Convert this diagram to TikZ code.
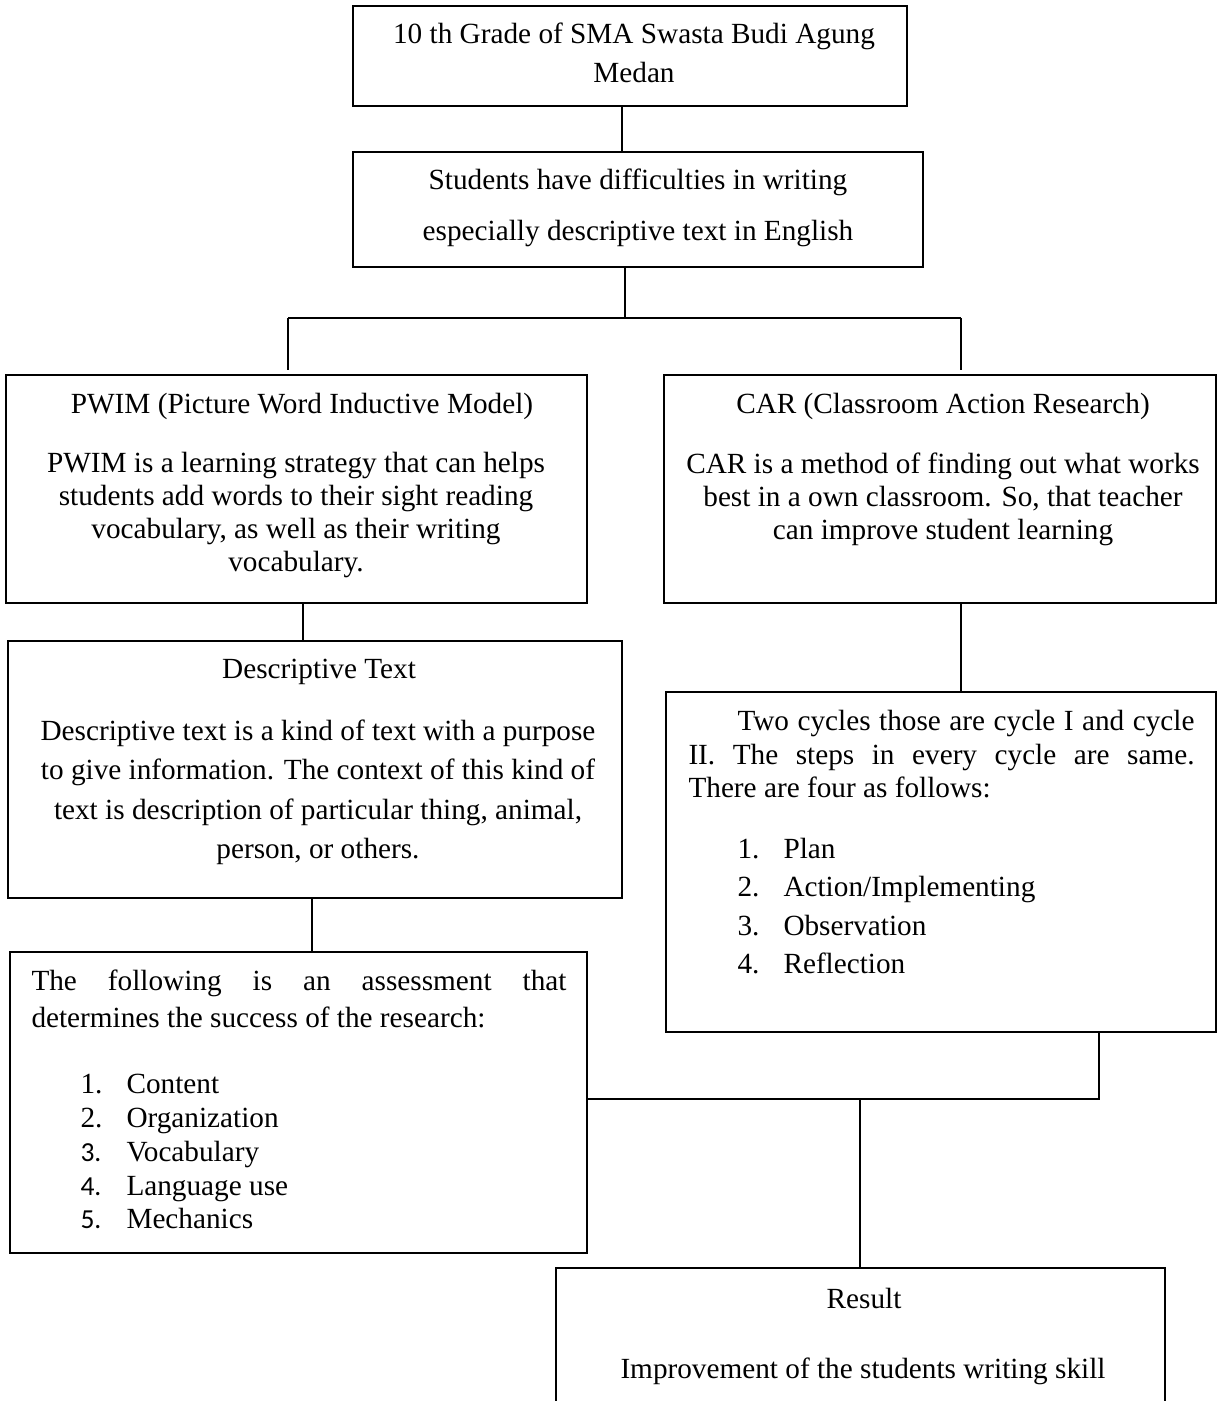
\documentclass[tikz,border=0pt]{standalone}
\usepackage{fontspec}
\setmainfont{Liberation Serif}
\newfontfamily\calib{Carlito}
\usetikzlibrary{fit}
\begin{document}
\begin{tikzpicture}[x=0.4pt,y=-0.4pt,
  box/.style={draw, line width=0.65pt, inner sep=0pt, rectangle},
  txt/.style={inner sep=0pt, font=\fontsize{11.7pt}{14pt}\selectfont},
  num/.style={inner sep=0pt, font=\calib\fontsize{11pt}{13pt}\selectfont},
  conn/.style={draw, line width=0.5pt}]
\clip (0,0) rectangle (1218,1401);
\fill[white] (0,0) rectangle (1218,1401);
% boxes
\node[box, fit={(353,6)(907,106)}] (grade) {};
\node[box, fit={(353,152)(923,267)}] (students) {};
\node[box, fit={(6,375)(587,603)}] (pwim) {};
\node[box, fit={(664,375)(1216,603)}] (car) {};
\node[box, fit={(8,641)(622,898)}] (desc) {};
\node[box, fit={(666,692)(1216,1032)}] (cycles) {};
\node[box, fit={(10,952)(587,1253)}] (assess) {};
\node[box, fit={(556,1268)(1165,1440)}] (result) {};
% connector guides
\coordinate (xa) at (622,0);
\coordinate (xb) at (625,0);
\coordinate (xl) at (288,0);
\coordinate (xr) at (961,0);
\coordinate (xc) at (303,0);
\coordinate (xd) at (312,0);
\coordinate (xe) at (1099,0);
\coordinate (xf) at (860,0);
\coordinate (hy) at (0,318);
\coordinate (hz) at (0,1099);
% connectors
\draw[conn] (grade.south -| xa) -- (students.north -| xa);
\draw[conn] (students.south -| xb) -- (xb |- hy);
\draw[conn] (xl |- hy) -- (xr |- hy);
\draw[conn, shorten >=1.5pt] (xl |- hy) -- (pwim.north -| xl);
\draw[conn, shorten >=1.5pt] (xr |- hy) -- (car.north -| xr);
\draw[conn] (pwim.south -| xc) -- (desc.north -| xc);
\draw[conn] (car.south -| xr) -- (cycles.north -| xr);
\draw[conn] (desc.south -| xd) -- (assess.north -| xd);
\draw[conn] (cycles.south -| xe) -- (xe |- hz) -- (assess.east |- hz);
\draw[conn] (xf |- hz) -- (result.north -| xf);
% texts: box 1
\node[txt, anchor=base] (g1) at (634,43) {10 th Grade of SMA Swasta Budi Agung};
\node[txt, anchor=base] (g2) at (634,82) {Medan};
% box 2
\node[txt, anchor=base] (s1) at (638,189) {Students have difficulties in writing};
\node[txt, anchor=base] (s2) at (638,240) {especially descriptive text in English};
% PWIM
\node[txt, anchor=base] (p0) at (302,413) {PWIM (Picture Word Inductive Model)};
\node[txt, anchor=base] (p1) at (296,472) {PWIM is a learning strategy that can helps};
\node[txt, anchor=base] (p2) at (296,505) {students add words to their sight reading};
\node[txt, anchor=base] (p3) at (296,538) {vocabulary, as well as their writing};
\node[txt, anchor=base] (p4) at (296,571) {vocabulary.};
% CAR
\node[txt, anchor=base] (r0) at (943,413) {CAR (Classroom Action Research)};
\node[txt, anchor=base] (r1) at (943,473) {CAR is a method of finding out what works};
\node[txt, anchor=base] (r2) at (943,506) {best in a own classroom. So, that teacher};
\node[txt, anchor=base] (r3) at (943,539) {can improve student learning};
% Descriptive
\node[txt, anchor=base] (d0) at (319,678) {Descriptive Text};
\node[txt, anchor=base] (d1) at (318,740) {Descriptive text is a kind of text with a purpose};
\node[txt, anchor=base] (d2) at (318,779) {to give information. The context of this kind of};
\node[txt, anchor=base] (d3) at (318,819) {text is description of particular thing, animal,};
\node[txt, anchor=base] (d4) at (318,858) {person, or others.};
% Two cycles
\node[txt, anchor=base west] (c1) at (737,730) {\makebox[182.8pt][s]{Two cycles those are cycle I and cycle}};
\node[txt, anchor=base west] (c2) at (688,764) {\makebox[202.4pt][s]{II. The steps in every cycle are same.}};
\node[txt, anchor=base west] (c3) at (688,797) {There are four as follows:};
\node[txt, anchor=base west] (cn1) at (737,858) {1.};
\node[txt, anchor=base west] (cl1) at (783,858) {Plan};
\node[txt, anchor=base west] (cn2) at (737,896) {2.};
\node[txt, anchor=base west] (cl2) at (783,896) {Action/Implementing};
\node[txt, anchor=base west] (cn3) at (737,935) {3.};
\node[txt, anchor=base west] (cl3) at (783,935) {Observation};
\node[txt, anchor=base west] (cn4) at (737,973) {4.};
\node[txt, anchor=base west] (cl4) at (783,973) {Reflection};
% Assessment
\node[txt, anchor=base west] (a1) at (31,990) {\makebox[214pt][s]{The following is an assessment that}};
\node[txt, anchor=base west] (a2) at (31,1027) {determines the success of the research:};
\node[txt, anchor=base west] (an1) at (80,1093) {1.};
\node[txt, anchor=base west] (al1) at (126,1093) {Content};
\node[txt, anchor=base west] (an2) at (80,1127) {2.};
\node[txt, anchor=base west] (al2) at (126,1127) {Organization};
\node[num, anchor=base west] (an3) at (80,1161) {3.};
\node[txt, anchor=base west] (al3) at (126,1161) {Vocabulary};
\node[num, anchor=base west] (an4) at (80,1195) {4.};
\node[txt, anchor=base west] (al4) at (126,1195) {Language use};
\node[num, anchor=base west] (an5) at (80,1228) {5.};
\node[txt, anchor=base west] (al5) at (126,1228) {Mechanics};
% Result
\node[txt, anchor=base] (res0) at (864,1308) {Result};
\node[txt, anchor=base] (res1) at (863,1378) {Improvement of the students writing skill};
\end{tikzpicture}
\end{document}
